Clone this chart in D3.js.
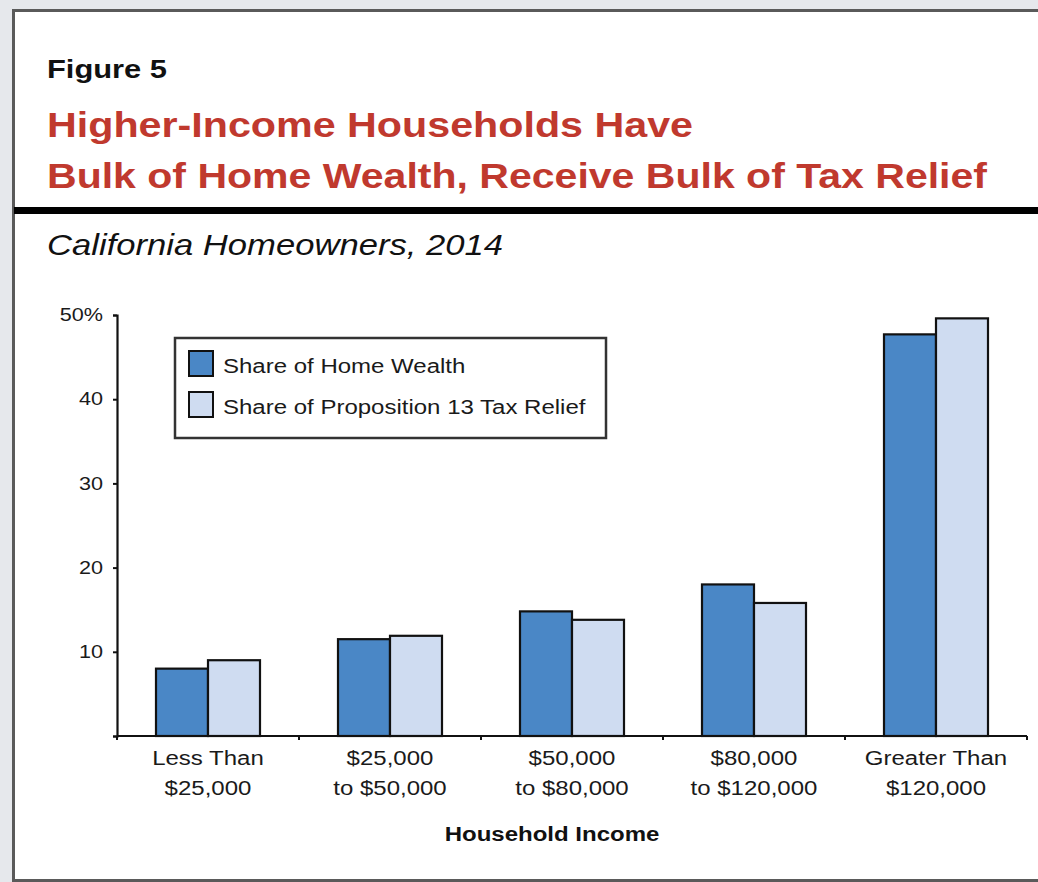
<!DOCTYPE html>
<html>
<head>
<meta charset="utf-8">
<script src="https://cdn.jsdelivr.net/npm/d3@7/dist/d3.min.js"></script>
<style>
  html, body { margin: 0; padding: 0; background: #e6e8ec; }
  svg { display: block; }
  text { font-family: "Liberation Sans", Arial, Helvetica, sans-serif; }
</style>
</head>
<body>
<script>
// Household income brackets
const categories = [
  ["Less Than", "$25,000"],
  ["$25,000", "to $50,000"],
  ["$50,000", "to $80,000"],
  ["$80,000", "to $120,000"],
  ["Greater Than", "$120,000"]
];
// Share (%) of home wealth held by each bracket
const homeWealth = [8.0, 11.5, 14.8, 18.0, 47.7];
// Share (%) of Proposition 13 tax relief received by each bracket
const taxRelief = [9.0, 11.9, 13.8, 15.8, 49.6];
const seriesNames = ["Share of Home Wealth", "Share of Proposition 13 Tax Relief"];
const seriesColors = ["#4a87c6", "#cfdcf1"];
const yTicks = [0, 10, 20, 30, 40, 50];

const W = 1038, H = 882;
const WIDEN = 1.2; // the figure's type is set slightly extended
const svg = d3.select("body").append("svg").attr("width", W).attr("height", H);

// Widen a text run horizontally while keeping its anchor point
function widen(sel) {
  sel.each(function () {
    const len = this.getComputedTextLength();
    d3.select(this).attr("textLength", len * WIDEN).attr("lengthAdjust", "spacingAndGlyphs");
  });
}

// Page frame
svg.append("rect").attr("x", 13.5).attr("y", 10.5).attr("width", W + 10).attr("height", H - 12)
  .attr("fill", "#fff").attr("stroke", "#5a5a5a").attr("stroke-width", 3);

// Headings
svg.append("text").attr("x", 47).attr("y", 78).attr("font-size", 25).attr("font-weight", "bold")
  .attr("fill", "#111").attr("textLength", 120).attr("lengthAdjust", "spacingAndGlyphs").text("Figure 5");
const red = "#c0392e";
svg.append("text").attr("x", 47).attr("y", 137).attr("font-size", 35).attr("font-weight", "bold")
  .attr("fill", red).attr("textLength", 646).attr("lengthAdjust", "spacingAndGlyphs")
  .text("Higher-Income Households Have");
svg.append("text").attr("x", 47).attr("y", 188).attr("font-size", 35).attr("font-weight", "bold")
  .attr("fill", red).attr("textLength", 940).attr("lengthAdjust", "spacingAndGlyphs")
  .text("Bulk of Home Wealth, Receive Bulk of Tax Relief");
svg.append("rect").attr("x", 14).attr("y", 207).attr("width", W).attr("height", 7).attr("fill", "#000");
svg.append("text").attr("x", 47).attr("y", 255).attr("font-size", 29).attr("font-style", "italic")
  .attr("fill", "#111").attr("textLength", 456).attr("lengthAdjust", "spacingAndGlyphs")
  .text("California Homeowners, 2014");

// Plot area
const x0 = 117, x1 = 1027, yBase = 736, yTop = 315;
const x = d3.scaleBand().domain(d3.range(categories.length)).range([x0, x1]).paddingInner(0).paddingOuter(0);
const barW = 52;
const y = d3.scaleLinear().domain([0, 50]).range([yBase, yTop]);

const data = categories.map((c, i) => ({ i, vals: [homeWealth[i], taxRelief[i]] }));

const groups = svg.append("g").selectAll("g").data(data).join("g")
  .attr("transform", d => `translate(${x(d.i) + x.bandwidth() / 2},0)`);
groups.selectAll("rect").data(d => d.vals.map((v, k) => ({ v, k }))).join("rect")
  .attr("x", d => (d.k === 0 ? -barW : 0))
  .attr("y", d => y(d.v))
  .attr("width", barW)
  .attr("height", d => yBase - y(d.v))
  .attr("fill", d => seriesColors[d.k])
  .attr("stroke", "#111").attr("stroke-width", 2.2);

// Y axis
const yAxis = d3.axisLeft(y).tickValues(yTicks).tickSize(4).tickPadding(10)
  .tickFormat(d => d === 0 ? "" : d === 50 ? "50%" : d);
const gy = svg.append("g").attr("transform", `translate(${x0},0)`).call(yAxis);
gy.select(".domain").attr("stroke", "#111").attr("stroke-width", 2.2);
gy.selectAll(".tick line").attr("stroke", "#111").attr("stroke-width", 2);
gy.selectAll(".tick text").attr("font-size", 18).attr("fill", "#1a1a1a")
  .attr("font-family", "'Liberation Sans', Arial, sans-serif").call(widen);

// X axis with boundary ticks between brackets
const bounds = d3.range(categories.length + 1).map(i => x0 + i * x.bandwidth());
const gx = svg.append("g");
gx.append("line").attr("x1", x0).attr("x2", x1).attr("y1", yBase).attr("y2", yBase)
  .attr("stroke", "#111").attr("stroke-width", 2.2);
gx.selectAll("line.tk").data(bounds).join("line").attr("class", "tk")
  .attr("x1", d => d).attr("x2", d => d).attr("y1", yBase).attr("y2", yBase + 4)
  .attr("stroke", "#111").attr("stroke-width", 2);
const lbl = gx.selectAll("text.cat").data(categories).join("text").attr("class", "cat")
  .attr("text-anchor", "middle").attr("font-size", 20).attr("fill", "#1a1a1a");
lbl.append("tspan").attr("x", (d, i) => x(i) + x.bandwidth() / 2).attr("y", 765).text(d => d[0]).call(widen);
lbl.append("tspan").attr("x", (d, i) => x(i) + x.bandwidth() / 2).attr("y", 795).text(d => d[1]).call(widen);
svg.append("text").attr("x", 552).attr("y", 841).attr("text-anchor", "middle")
  .attr("font-size", 20).attr("font-weight", "bold").attr("fill", "#111").text("Household Income").call(widen);

// Legend
const lg = svg.append("g");
lg.append("rect").attr("x", 175).attr("y", 338).attr("width", 431).attr("height", 100)
  .attr("fill", "#fff").attr("stroke", "#333").attr("stroke-width", 2.5);
seriesNames.forEach((name, k) => {
  const yy = 351 + k * 41;
  lg.append("rect").attr("x", 189).attr("y", yy).attr("width", 24).attr("height", 25)
    .attr("fill", seriesColors[k]).attr("stroke", "#111").attr("stroke-width", 2);
  lg.append("text").attr("x", 223).attr("y", yy + 22).attr("font-size", 20).attr("fill", "#1a1a1a")
    .text(name).call(widen);
});
</script>
</body>
</html>
